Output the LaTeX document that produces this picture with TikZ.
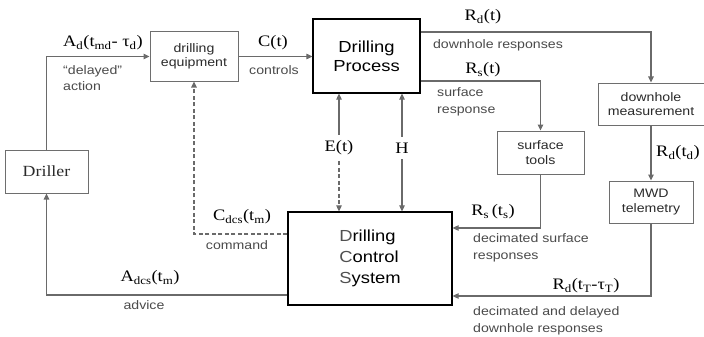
\documentclass[tikz,border=0pt]{standalone}
\usepackage{fontspec}
\setmainfont{Liberation Serif}[FakeStretch=1.15]
\newfontfamily\arialf{Liberation Sans}[FakeStretch=1.15]
\usetikzlibrary{arrows.meta,positioning}
\definecolor{ink}{HTML}{000000}
\definecolor{wire}{HTML}{6A6A6A}
\definecolor{notegray}{HTML}{4A4A4A}
\definecolor{boxline}{HTML}{6E6E6E}
\definecolor{boxtext}{HTML}{2A2A2A}
\definecolor{initial}{HTML}{505050}
\newcommand{\sbs}[1]{\textsubscript{#1}}
\tikzset{
  unit/.style={draw=boxline,line width=1pt,align=center,inner sep=2pt,
               font=\arialf\fontsize{12.3}{14.5}\selectfont,text=boxtext},
  mainunit/.style={draw=ink,line width=1.2pt,align=center,inner sep=2pt,
                   font=\arialf\fontsize{16}{19}\selectfont},
  sig/.style={font=\fontsize{16}{18}\selectfont,inner sep=1pt},
  note/.style={font=\arialf\fontsize{12.3}{16.5}\selectfont,text=notegray,
               align=left,inner sep=1pt},
  wirearr/.style={-{Triangle[length=6pt,width=5.5pt]},line width=1.1pt,
                  draw=wire},
  dashwire/.style={wirearr,dashed,dash pattern=on 4pt off 2.5pt}
}
\begin{document}
\begin{tikzpicture}[x=1pt,y=-1pt]
  \path[use as bounding box] (0,0) rectangle (704,337);
  % blocks
  \node[unit,minimum width=83pt,minimum height=43pt,
        font=\fontsize{15.5}{18}\selectfont] (driller) at (46.5,171.5) {Driller};
  \node[unit,minimum width=88pt,minimum height=49pt] (equip) at (194,56.5)
    {drilling\\equipment};
  \node[mainunit,minimum width=107pt,minimum height=74pt] (proc) at (366.5,56)
    {Drilling\\Process};
  \node[unit,minimum width=106pt,minimum height=42pt] (dhmeas) at (651,104)
    {downhole\\measurement};
  \node[unit,minimum width=87pt,minimum height=43pt] (stools) at (540.5,152.5)
    {surface\\tools};
  \node[unit,minimum width=84pt,minimum height=42pt] (mwd) at (651,202)
    {MWD\\telemetry};
  \node[mainunit,minimum width=164pt,minimum height=93pt,align=left,
        font=\arialf\fontsize{16}{21}\selectfont] (dcs) at (370,258.5)
    {{\color{initial}D}rilling\\{\color{initial}C}ontrol\\{\color{initial}S}ystem};
  % signal labels
  \node[sig] (lblAd) at (103,43) {A\sbs{d}(t\sbs{md}- τ\sbs{d})};
  \node[note,anchor=west] (lblDelay) at (62,78) {“delayed”\\action};
  \node[sig] (lblC) at (273,43) {C(t)};
  \node[note] (lblCtrl) at (274,70) {controls};
  \node[sig] (lblRd) at (483,17) {R\sbs{d}(t)};
  \node[note] (lblDown) at (498,45) {downhole responses};
  \node[sig] (lblRs) at (483,70) {R\sbs{s}(t)};
  \node[note,anchor=west] (lblSurf) at (436,102) {surface\\response};
  \node[sig] (lblE) at (339,148) {E(t)};
  \node[sig] (lblH) at (402,148) {H};
  \node[sig] (lblRdd) at (678,153) {R\sbs{d}(t\sbs{d})};
  \node[sig] (lblRss) at (493,212) {R\sbs{s}\,(t\sbs{s})};
  \node[note,anchor=west] (lblDecS) at (472,248) {decimated surface\\responses};
  \node[sig] (lblRdT) at (586,286) {R\sbs{d}(t\sbs{T}-τ\sbs{T})};
  \node[note,anchor=west] (lblDecD) at (472,321)
    {decimated and delayed\\downhole responses};
  \node[sig] (lblCdcs) at (242,217) {C\sbs{dcs}(t\sbs{m})};
  \node[note] (lblCmd) at (237,245) {command};
  \node[sig] (lblAdcs) at (150,278) {A\sbs{dcs}(t\sbs{m})};
  \node[note] (lblAdv) at (144,305) {advice};
  % connectors
  \draw[wirearr] (driller.north) |- (equip.west);
  \draw[wirearr] (equip.east) -- (proc.west |- equip.east);
  \draw[wirearr] ([yshift=24pt]proc.east) -| (dhmeas.north);
  \draw[wirearr] ([yshift=-25pt]proc.east) -| (stools.north);
  \draw[wirearr,shorten <=5pt] (lblE.north) -- (lblE |- proc.south);
  \draw[dashwire,shorten <=5pt] (lblE.south) -- (lblE |- dcs.north);
  \draw[wirearr,shorten <=5pt] (lblH.north) -- (lblH |- proc.south);
  \draw[wirearr,shorten <=5pt] (lblH.south) -- (lblH |- dcs.north);
  \draw[wirearr] (dhmeas.south) -- (mwd.north);
  \draw[wirearr] (stools.south) |- ([yshift=30.5pt]dcs.east);
  \draw[wirearr] (mwd.south) |- ([yshift=-37.5pt]dcs.east);
  \draw[wirearr] ([yshift=-36.5pt]dcs.west) -| (driller.south);
  \draw[dashwire] ([yshift=24.5pt]dcs.west) -| (equip.south);
\end{tikzpicture}
\end{document}
